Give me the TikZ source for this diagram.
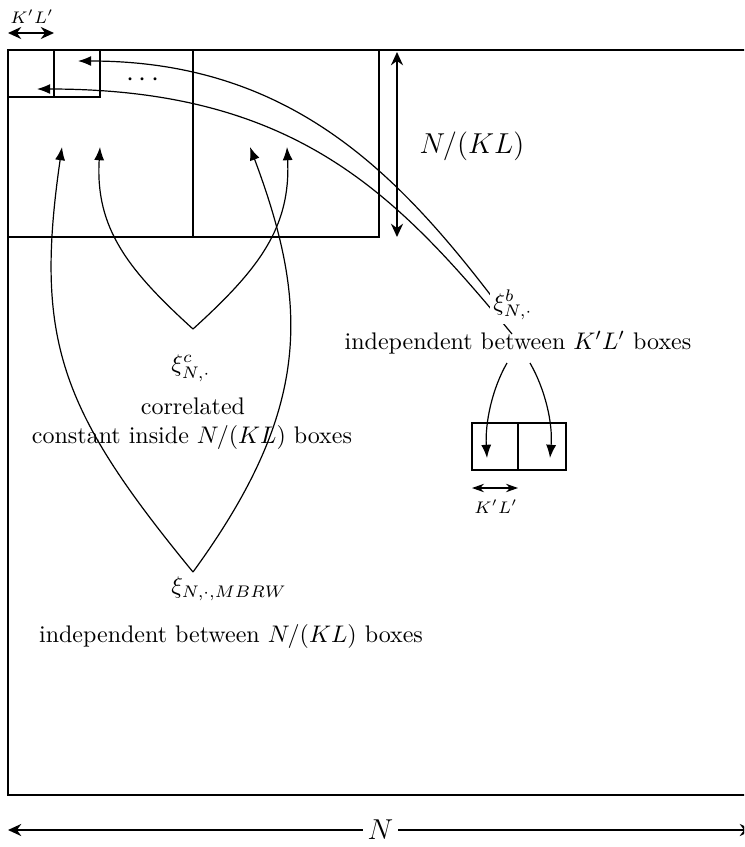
\documentclass[tikz,border=0pt]{standalone}
\usepackage{tikz}
\usetikzlibrary{positioning,arrows.meta}

\begin{document}
\begin{tikzpicture}[x=0.4167pt,y=-0.4167pt,
                  frame/.style={draw,line width=1.15pt},
                  arr/.style={-{Latex[length=5.5pt,width=4.2pt]},line width=0.5pt},
                  dim/.style={{Stealth[length=5.5pt,width=5pt]}-{Stealth[length=5.5pt,width=5pt]},line width=1.2pt},
                  smalldim/.style={{Stealth[length=5pt,width=3.5pt]}-{Stealth[length=5pt,width=3.5pt]},semithick}
                ]
                \clip (0,0) rectangle (744,847);
                % big N box and the two N/(KL) boxes
                \draw[frame] (8,50) rectangle (753,795);
                \draw[frame] (8,50) rectangle (193,237);
                \draw[frame] (193,50) rectangle (379,237);
                % K'L' boxes in the corner
                \draw[frame] (8,50) rectangle (54,97);
                \draw[frame] (54,50) rectangle (100,97);
                \node (dots) at (143,80) {\large$\cdots$};

                % sizes
                \coordinate (vtop) at (397,52);
                \coordinate (vbot) at (397,237);
                \draw[dim] (vtop) -- (vbot);
                \node (nkl) at (472,146) {\large$N/(KL)$};
                \coordinate (ta) at (8,33);
                \coordinate (tb) at (54,33);
                \draw[dim,line width=1pt] (ta) -- (tb);
                \node (tkl) at (32,17) {\scriptsize$K'L'$};
                \coordinate (na) at (8,830);
                \coordinate (nb) at (753,830);
                \draw[dim] (na) -- node[fill=white,inner sep=2pt] (nlab) {\large$N$} (nb);

                % two K'L' boxes
                \draw[frame] (472,423) rectangle (518,470);
                \draw[frame] (518,423) rectangle (566,470);
                \coordinate (sa) at (472,488);
                \coordinate (sb) at (518,488);
                \draw[smalldim] (sa) -- (sb);
                \node (skl) at (496,507) {\scriptsize$K'L'$};

                % labels
                \node (xic) at (191,368) {$\xi^c_{N,\cdot}$};
                \node (corr) at (193,406) {correlated};
                \node (const) at (192,437) {constant inside $N/(KL)$ boxes};
                \node (xim) at (229,589) {$\xi_{N,\cdot,MBRW}$};
                \node (indm) at (231,636) {independent between $N/(KL)$ boxes};
                \node (indb) at (518,343) {independent between $K'L'$ boxes};

                % xi^c arrows
                \coordinate (ctip) at (193,329);
                \coordinate (c1) at (100,147);
                \coordinate (c2) at (287,147);
                \draw[arr] (ctip) .. controls (128,270) and (95,228) .. (c1);
                \draw[arr] (ctip) .. controls (258,270) and (291,228) .. (c2);

                % MBRW arrows
                \coordinate (mtip) at (193,572);
                \coordinate (m1) at (62,147);
                \coordinate (m2) at (250,147);
                \draw[arr] (mtip) .. controls (60,410) and (34,340) .. (m1);
                \draw[arr] (mtip) .. controls (311,410) and (310,307) .. (m2);

                % xi^b arrows
                \coordinate (b1) at (508,318);
                \coordinate (b2) at (512,334);
                \coordinate (k1) at (78,61);
                \coordinate (k2) at (37,89);
                \draw[arr] (b1) .. controls (406,182) and (298,61) .. (k1);
                \draw[arr] (b2) .. controls (397,195) and (297,89) .. (k2);
                \node[fill=white,inner sep=1.5pt] (xib) at (513,305) {$\xi^b_{N,\cdot}$};

                \coordinate (d1) at (507,363);
                \coordinate (d2) at (530,363);
                \coordinate (e1) at (487,458);
                \coordinate (e2) at (550,458);
                \draw[arr] (d1) .. controls (492,389) and (485,423) .. (e1);
                \draw[arr] (d2) .. controls (545,389) and (553,423) .. (e2);
\end{tikzpicture}
\end{document}
